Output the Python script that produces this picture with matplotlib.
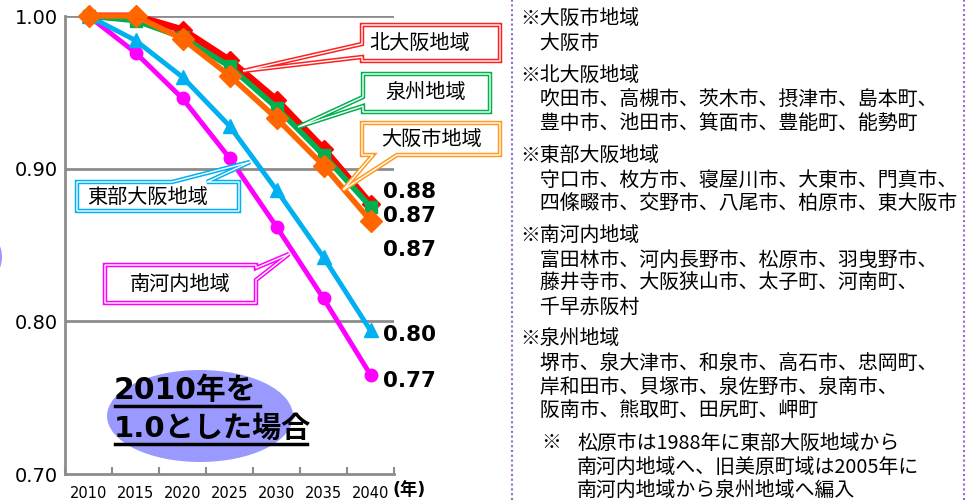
import matplotlib
matplotlib.use('Agg')
import matplotlib.pyplot as plt
from matplotlib.patches import Polygon, Ellipse
from matplotlib.lines import Line2D

plt.rcParams['font.family'] = ['DejaVu Sans', 'Noto Sans CJK JP']

W, H = 974, 500

# ---------------- data ----------------
years = ['2010', '2015', '2020', '2025', '2030', '2035', '2040']
kita_osaka = [1.000, 1.000, 0.991, 0.971, 0.945, 0.913, 0.877]   # 北大阪地域
senshu = [1.000, 0.997, 0.986, 0.967, 0.940, 0.909, 0.875]       # 泉州地域
osaka_city = [1.000, 1.000, 0.985, 0.961, 0.933, 0.902, 0.866]   # 大阪市地域
tobu_osaka = [1.000, 0.984, 0.960, 0.928, 0.886, 0.842, 0.794]   # 東部大阪地域
minami_kawachi = [1.000, 0.976, 0.946, 0.907, 0.862, 0.815, 0.765]  # 南河内地域

end_labels = ['0.88', '0.87', '0.87', '0.80', '0.77']
end_label_y = [0.885, 0.869, 0.847, 0.791, 0.761]

y_ticks = [0.70, 0.80, 0.90, 1.00]
y_tick_labels = ['0.70', '0.80', '0.90', '1.00']

callout_names = ['北大阪地域', '泉州地域', '大阪市地域', '東部大阪地域', '南河内地域']

notes = [
    '※大阪市地域', '　大阪市',
    '※北大阪地域', '　吹田市、高槻市、茨木市、摂津市、島本町、', '　豊中市、池田市、箕面市、豊能町、能勢町',
    '※東部大阪地域', '　守口市、枚方市、寝屋川市、大東市、門真市、', '　四條畷市、交野市、八尾市、柏原市、東大阪市',
    '※南河内地域', '　富田林市、河内長野市、松原市、羽曳野市、', '　藤井寺市、大阪狭山市、太子町、河南町、', '　千早赤阪村',
    '※泉州地域', '　堺市、泉大津市、和泉市、高石市、忠岡町、', '　岸和田市、貝塚市、泉佐野市、泉南市、', '　阪南市、熊取町、田尻町、岬町',
]
note_y = [18, 43, 75, 100, 123, 155, 180, 203, 235, 260, 283, 307, 338, 363, 387, 410]
footnote = ['松原市は1988年に東部大阪地域から', '南河内地域へ、旧美原町域は2005年に', '南河内地域から泉州地域へ編入']
footnote_y = [443, 467, 490]


def P(x, y):
    return (x / W, 1 - y / H)


fig = plt.figure(figsize=(W / 100, H / 100), dpi=100)
fig.patch.set_facecolor('white')

ax = fig.add_axes([65 / W, 1 - 474 / H, (394 - 65) / W, (474 - 16) / H])
x = list(range(len(years)))
ax.set_xlim(-0.5, len(years) - 0.5)
ax.set_ylim(0.70, 1.00)

grey = '#8c8c8c'
for v in y_ticks[1:]:
    ax.axhline(v, color=grey, lw=2, zorder=1)
for s in ['top', 'right']:
    ax.spines[s].set_visible(False)
for s in ['left', 'bottom']:
    ax.spines[s].set_color(grey)
    ax.spines[s].set_linewidth(2)

ax.set_yticks(y_ticks)
ax.set_yticklabels(y_tick_labels, fontsize=14)
ax.tick_params(axis='y', length=0, pad=5)
ax.set_xticks(x)
ax.set_xticklabels(years, fontsize=10.5)
ax.tick_params(axis='x', which='major', length=0, pad=9)
ax.set_xticks([i - 0.5 for i in range(len(years) + 1)], minor=True)
ax.tick_params(axis='x', which='minor', direction='in', length=5, width=1.5, color=grey)

ax.plot(x, minami_kawachi, color='#ff00ff', lw=3.5, marker='o', ms=9, clip_on=False, zorder=3)
ax.plot(x, tobu_osaka, color='#00b0f0', lw=3.5, marker='^', ms=10, clip_on=False, zorder=3)
ax.plot(x, kita_osaka, color='#ff0000', lw=5, marker='D', ms=9, clip_on=False, zorder=4)
ax.plot(x, senshu, color='#00b050', lw=4, marker='s', ms=9, clip_on=False, zorder=5)
ax.plot(x, osaka_city, color='#ff6600', lw=4, marker='D', ms=11, clip_on=False, zorder=6)

for lab, yv in zip(end_labels, end_label_y):
    ax.text(6.27, yv, lab, fontsize=15.5, fontweight='bold', ha='left', va='center', clip_on=False)

fig.text(*P(393, 490), '(年)', fontsize=12.5, fontweight='bold', ha='left', va='center')

# ellipse with caption
fig.add_artist(Ellipse(P(200, 416), 186 / W, 92 / H, transform=fig.transFigure,
                       facecolor='#9999ff', edgecolor='none', zorder=1))
fig.add_artist(Ellipse(P(-12, 257), 28 / W, 42 / H, transform=fig.transFigure,
                       facecolor='#9999ff', edgecolor='none', zorder=1))
fig.text(*P(114, 391), '2010年を', fontsize=21.5, fontweight='bold', ha='left', va='center', zorder=3)
fig.text(*P(114, 429), '1.0とした場合', fontsize=21, fontweight='bold', ha='left', va='center', zorder=3)
fig.add_artist(Line2D([115 / W, 260 / W], [1 - 406 / H] * 2, color='black', lw=2.5, zorder=3))
fig.add_artist(Line2D([115 / W, 307 / W], [1 - 444 / H] * 2, color='black', lw=2.5, zorder=3))

# callouts
callout_polys = [
    [(362, 25), (500, 25), (500, 61), (362, 61), (362, 57), (243, 71), (362, 44)],
    [(363, 74), (490, 74), (490, 112), (363, 112), (363, 106), (298, 127), (363, 97)],
    [(362, 123), (500, 123), (500, 155), (397, 155), (343, 190), (373, 155), (362, 155)],
    [(77, 182), (172, 182), (250, 162), (207, 182), (239, 182), (239, 211), (77, 211)],
    [(105, 265), (256, 265), (256, 268), (289, 254), (256, 280), (256, 303), (105, 303)],
]
callout_colors = ['#ff2020', '#00b050', '#ff9a20', '#00b0f0', '#ff00ff']
callout_text_pos = [(420, 43), (426, 93), (431, 139), (148, 197), (180, 284)]
for poly, col, name, tp in zip(callout_polys, callout_colors, callout_names, callout_text_pos):
    pts = [P(*p) for p in poly]
    fig.add_artist(Polygon(pts, closed=True, transform=fig.transFigure, facecolor='white',
                           edgecolor=col, lw=3.2, joinstyle='miter', zorder=5))
    fig.add_artist(Polygon(pts, closed=True, transform=fig.transFigure, fill=False,
                           edgecolor='white', lw=1.0, joinstyle='miter', zorder=5))
    fig.text(*P(*tp), name, fontsize=14.5, ha='center', va='center', zorder=6,
             family=['Noto Sans CJK JP', 'DejaVu Sans'])

# dotted separators
for xx in (512, 964):
    fig.add_artist(Line2D([xx / W] * 2, [0, 1], color='#9966cc', lw=1.5, ls=(0, (1, 1.3))))

# notes
jp = ['Noto Sans CJK JP', 'DejaVu Sans']
for t, yy in zip(notes, note_y):
    fig.text(*P(520, yy), t, fontsize=14.3, ha='left', va='center', family=jp)
fig.text(*P(541, footnote_y[0]), '※', fontsize=14.3, ha='left', va='center', family=jp)
for t, yy in zip(footnote, footnote_y):
    fig.text(*P(577, yy), t, fontsize=14.3, ha='left', va='center', family=jp)

fig.savefig('out.png', dpi=100, facecolor='white')
